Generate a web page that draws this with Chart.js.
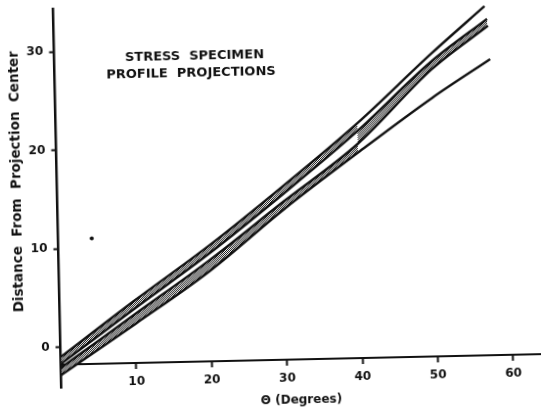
<!DOCTYPE html>
<html>
<head>
<meta charset="utf-8">
<script src="https://cdn.jsdelivr.net/npm/chart.js@4.4.1/dist/chart.umd.min.js"></script>
<style>
    html, body { margin: 0; padding: 0; background: #fff; overflow: hidden; }
    #profile-js { display: block; transform: rotate(-1.25deg); }
</style>
</head>
<body>
<canvas id="profile-js" width="541" height="410"></canvas>
<script>
// angle (degrees) where each profile was sampled, last point is where the trace stops
const degrees = [0, 10, 20, 30, 40, 50];
const traceEnds = [57.2, 57.5, 57.6, 57.8];

// distance from projection center for the four traced profiles
const profileA = [-1.0, 4.6, 10.0, 15.9, 22.1, 29.0, 33.7];
const profileB = [-1.7, 3.8, 9.2, 15.1, 21.3, 28.2, 32.4];
const profileC = [-2.1, 3.2, 8.5, 14.3, 20.0, 27.4, 31.7];
const profileD = [-2.85, 2.2, 7.4, 13.5, 19.1, 24.5, 28.3];

// stray point left on the sheet
const strayPoint = [{ x: 4.45, y: 10.97 }];

const xTicks = [10, 20, 30, 40, 50, 60];
const yTicks = [0, 10, 20, 30];

const xTitle = 'Θ (Degrees)';
const yTitle = 'Distance  From  Projection  Center';
const noteLines = ['STRESS  SPECIMEN', 'PROFILE  PROJECTIONS'];

const FONT = "'DejaVu Sans', sans-serif";
const INK = '#111';

const toPoints = (values, end) => degrees.concat([end]).map((x, i) => ({ x: x, y: values[i] }));

function stipple(ctx) {
    const tile = document.createElement('canvas');
    tile.width = 2;
    tile.height = 2;
    const t = tile.getContext('2d');
    t.fillStyle = '#fff';
    t.fillRect(0, 0, 2, 2);
    t.fillStyle = '#111';
    t.fillRect(0, 0, 1, 1);
    t.fillRect(1, 1, 1, 1);
    return ctx.createPattern(tile, 'repeat');
}

// inset lettering and the rotated axis caption
const lettering = {
    id: 'lettering',
    afterDatasetsDraw(chart) {
        const { ctx, chartArea, scales: { x, y } } = chart;
        ctx.save();
        ctx.fillStyle = INK;
        ctx.textAlign = 'center';
        ctx.textBaseline = 'middle';
        ctx.font = 'bold 13px ' + FONT;
        noteLines.forEach((line, i) => {
            ctx.fillText(line, x.getPixelForValue(18.6 - i * 0.5), y.getPixelForValue(29.3 - i * 1.75));
        });
        ctx.translate(chartArea.left - 40, y.getPixelForValue(16.9));
        ctx.rotate(-Math.PI / 2);
        ctx.font = 'bold 13.5px ' + FONT;
        ctx.fillText(yTitle, 0, 0);
        ctx.restore();
    }
};

function trace(values, end) {
    return {
        data: toPoints(values, end),
        borderColor: INK,
        borderWidth: 2.4,
        fill: false,
        pointRadius: 0,
        cubicInterpolationMode: 'monotone'
    };
}

// shaded strip between two neighbouring traces over part of their run
function shade(values, end, from, to, target, pattern) {
    return {
        data: toPoints(values, end).slice(from, to),
        borderWidth: 0,
        backgroundColor: pattern,
        fill: target,
        pointRadius: 0,
        cubicInterpolationMode: 'monotone'
    };
}

function profileData(ctx) {
    const dots = stipple(ctx);
    return {
        datasets: [
            trace(profileA, traceEnds[0]),
            trace(profileB, traceEnds[1]),
            trace(profileC, traceEnds[2]),
            trace(profileD, traceEnds[3]),
            shade(profileA, traceEnds[0], 0, 5, 1, dots),
            shade(profileB, traceEnds[1], 4, 7, 2, dots),
            shade(profileD, traceEnds[3], 0, 5, 2, dots),
            {
                data: strayPoint,
                showLine: false,
                pointRadius: 2,
                pointBackgroundColor: INK,
                pointBorderWidth: 0
            }
        ]
    };
}

function axisGrid() {
    return {
        drawOnChartArea: false,
        drawTicks: true,
        tickLength: 5,
        tickWidth: 2,
        tickColor: INK
    };
}

function profileConfig(data) {
    return {
        type: 'line',
        data: data,
        plugins: [lettering],
        options: {
            responsive: false,
            animation: false,
            layout: { padding: { top: 3, right: 1, bottom: 26.5, left: 0 } },
            plugins: {
                legend: { display: false },
                tooltip: { enabled: false }
            },
            scales: {
                x: {
                    type: 'linear',
                    min: 0,
                    max: 63.6,
                    position: { y: -1.81 },
                    afterBuildTicks: axis => { axis.ticks = xTicks.map(v => ({ value: v })); },
                    grid: axisGrid(),
                    border: { display: true, color: INK, width: 2 },
                    ticks: {
                        padding: 6,
                        color: INK,
                        font: { family: FONT, size: 12, weight: 'bold' }
                    },
                    title: {
                        display: true,
                        text: xTitle,
                        color: INK,
                        padding: { top: 2, bottom: 0 },
                        font: { family: FONT, size: 12, weight: 'bold' }
                    }
                },
                y: {
                    type: 'linear',
                    min: -4.16,
                    max: 34.4,
                    afterBuildTicks: axis => { axis.ticks = yTicks.map(v => ({ value: v })); },
                    afterFit: scale => {
                        scale.width = 57.5;
                        scale.paddingTop = 0;
                        scale.paddingBottom = 0;
                    },
                    grid: axisGrid(),
                    border: { display: true, color: INK, width: 2.5 },
                    ticks: {
                        padding: 6,
                        color: INK,
                        font: { family: FONT, size: 12, weight: 'bold' }
                    }
                }
            }
        }
    };
}

function printProfiles() {
    const ctx = document.getElementById('profile-js').getContext('2d');
    new Chart(ctx, profileConfig(profileData(ctx)));
}

printProfiles();
</script>
</body>
</html>
